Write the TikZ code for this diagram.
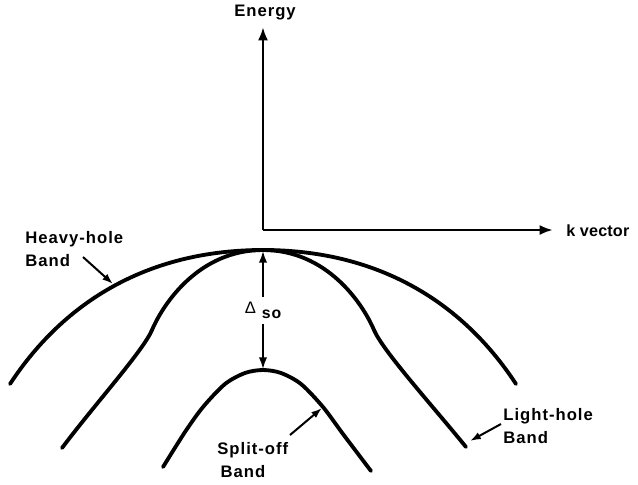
\documentclass[tikz,border=0pt]{standalone}
\usepackage{fontspec}
\setmainfont{Liberation Sans}[LetterSpace=6]
\usepackage{tikz}
\usetikzlibrary{arrows.meta,positioning,calc}

\tikzset{
  band/.style={line width=2.3pt, line cap=round},
  axis/.style={line width=1.7pt, -{Latex[length=8pt,width=6pt]}},
  pointer/.style={line width=1.2pt, -{Latex[length=6.5pt,width=4.5pt]}},
  lbl/.style={font=\fontsize{10}{13.8}\selectfont\bfseries, align=left, inner sep=0pt},
}

\begin{document}
\begin{tikzpicture}[x=0.6pt, y=-0.6pt]
    \useasboundingbox (0,0) rectangle (638,484);

    % Axes
    \coordinate (origin) at (263,230);
    \coordinate (etip) at (263,27);
    \coordinate (ktip) at (553,230);
    \draw[axis] (origin) -- (etip);
    \draw[axis] (origin) -- (ktip);
    \node[lbl] (energy) at (265,13) {Energy};
    \node[lbl, anchor=west, font=\fontsize{9.7}{13.8}\selectfont\bfseries\addfontfeatures{LetterSpace=1}]
        (kvec) at (566,231) {k vector};

    % Heavy-hole band
    \coordinate (top) at (263,250);
    \draw[band] (10,384) .. controls (65,300) and (150,250) .. (top)
                         .. controls (376,250) and (461,300) .. (516,384);

    % Light-hole band
    \draw[band] (62,448) .. controls (95,404) and (143,351) .. (152,330)
                         .. controls (164,302) and (200,250) .. (top)
                         .. controls (326,250) and (362,302) .. (374,330)
                         .. controls (383,351) and (431,404) .. (466,447);

    % Split-off band
    \draw[band] plot[smooth] coordinates {(163,467) (185,432) (203,407) (225,384)
        (245,373) (263,370) (281,373) (301,384) (323,407) (343,434) (371,471)};

    % Spin-orbit splitting
    \coordinate (vtop) at (263,251);
    \coordinate (vso) at (263,369);
    \node[inner sep=0pt, minimum height=16pt] (dso) at (263,310.5)
        {\fontsize{10}{10}\selectfont Δ\hspace{3.5pt}\raisebox{-0.6ex}{\fontsize{9.5}{10}\selectfont\bfseries so}};
    \draw[line width=1pt, -{Latex[length=7pt,width=5pt]}] (dso.north) -- (vtop);
    \draw[line width=1pt, -{Latex[length=7pt,width=5pt]}] (dso.south) -- (vso);

    % Labels
    \node[lbl, anchor=west] (hh) at (25,249.5) {Heavy-hole\\Band};
    \node[lbl, anchor=west] (lh) at (503,426.5) {Light-hole\\Band};
    \node[lbl, anchor=west] (so) at (217,460) {Split-off\\\hspace{2pt}Band};

    \coordinate (hhfrom) at (83,257);
    \coordinate (hhto) at (113,284);
    \coordinate (lhfrom) at (501,424);
    \coordinate (lhto) at (470,441);
    \coordinate (sofrom) at (290,435);
    \coordinate (soto) at (322,408);
    \draw[pointer] (hhfrom) -- (hhto);
    \draw[pointer] (lhfrom) -- (lhto);
    \draw[pointer] (sofrom) -- (soto);
\end{tikzpicture}
\end{document}
